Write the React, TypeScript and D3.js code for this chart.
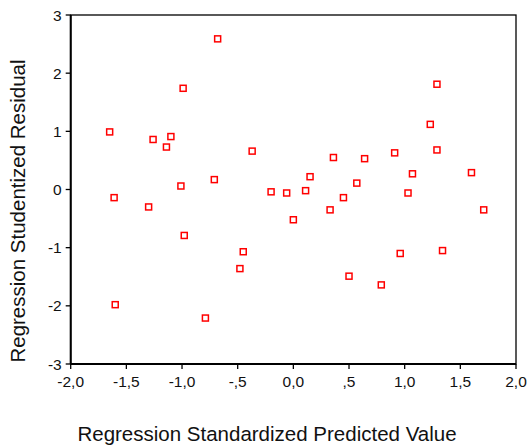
import React from 'react';
import * as d3 from 'd3';

// standardized predicted value (x) and studentized residual (y)
const predicted = [
  -1.65, -1.61, -1.6, -1.3, -1.26, -1.14, -1.1, -1.01, -0.99, -0.98,
  -0.79, -0.71, -0.68, -0.48, -0.45, -0.37, -0.2, -0.06, 0.0, 0.11,
  0.15, 0.33, 0.36, 0.45, 0.5, 0.57, 0.64, 0.79, 0.91, 0.96,
  1.03, 1.07, 1.23, 1.29, 1.29, 1.34, 1.6, 1.71,
];
const residual = [
  0.99, -0.14, -1.98, -0.3, 0.86, 0.73, 0.91, 0.06, 1.74, -0.79,
  -2.21, 0.17, 2.59, -1.36, -1.07, 0.66, -0.04, -0.06, -0.52, -0.02,
  0.22, -0.35, 0.55, -0.14, -1.49, 0.11, 0.53, -1.64, 0.63, -1.1,
  -0.06, 0.27, 1.12, 1.81, 0.68, -1.05, 0.29, -0.35,
];
const xTicks = [-2, -1.5, -1, -0.5, 0, 0.5, 1, 1.5, 2];
const yTicks = [-3, -2, -1, 0, 1, 2, 3];

const W = 530;
const H = 446;
const left = 70.7;
const right = 516;
const top = 15;
const bottom = 364;
const font = 'Arial, "Liberation Sans", sans-serif';

// SPSS style: "0,5" shows as ",5"
function fmtX(v: number) {
  let s = Math.abs(v).toFixed(1).replace('.', ',');
  if (s.startsWith('0,') && v !== 0) s = s.slice(1);
  return (v < 0 ? '-' : '') + s;
}

export default function App() {
  const x = d3.scaleLinear().domain([-2, 2]).range([left, right]);
  const y = d3.scaleLinear().domain([-3, 3]).range([bottom, top]);
  const pts = d3.zip(predicted, residual);
  const s = 6;

  return (
    <svg width={W} height={H} style={{ position: 'absolute', left: 0, top: 0, background: '#fff' }}>
      {/* frame */}
      <rect x={left} y={top} width={right - left} height={bottom - top} fill="none" stroke="#000" strokeWidth={1.3} />
      <line x1={left} x2={left} y1={top} y2={bottom} stroke="#000" strokeWidth={2} />
      <line x1={left} x2={right} y1={bottom} y2={bottom} stroke="#000" strokeWidth={2} />

      {yTicks.map((t) => (
        <g key={'y' + t}>
          <line x1={left - 5} x2={left} y1={y(t)} y2={y(t)} stroke="#000" strokeWidth={1.3} />
          <text x={left - 9} y={y(t)} dy="0.36em" textAnchor="end" fontFamily={font} fontSize={15.5} fill="#111">
            {t}
          </text>
        </g>
      ))}
      {xTicks.map((t) => (
        <g key={'x' + t}>
          <line x1={x(t)} x2={x(t)} y1={bottom} y2={bottom + 5} stroke="#000" strokeWidth={1.3} />
          <text x={x(t)} y={387} textAnchor="middle" fontFamily={font} fontSize={15.5} fill="#111">
            {fmtX(t)}
          </text>
        </g>
      ))}

      {pts.map(([px, py], i) => (
        <rect
          key={i}
          x={x(px) - s / 2}
          y={y(py) - s / 2}
          width={s}
          height={s}
          fill="#fff"
          stroke="#ff0000"
          strokeWidth={1.5}
        />
      ))}

      <text x={267} y={441} textAnchor="middle" fontFamily={font} fontSize={20.5} fill="#111">
        Regression Standardized Predicted Value
      </text>
      <text
        transform={`translate(25, ${211}) rotate(-90)`}
        textAnchor="middle"
        fontFamily={font}
        fontSize={20.5}
        fill="#111"
      >
        Regression Studentized Residual
      </text>
    </svg>
  );
}
